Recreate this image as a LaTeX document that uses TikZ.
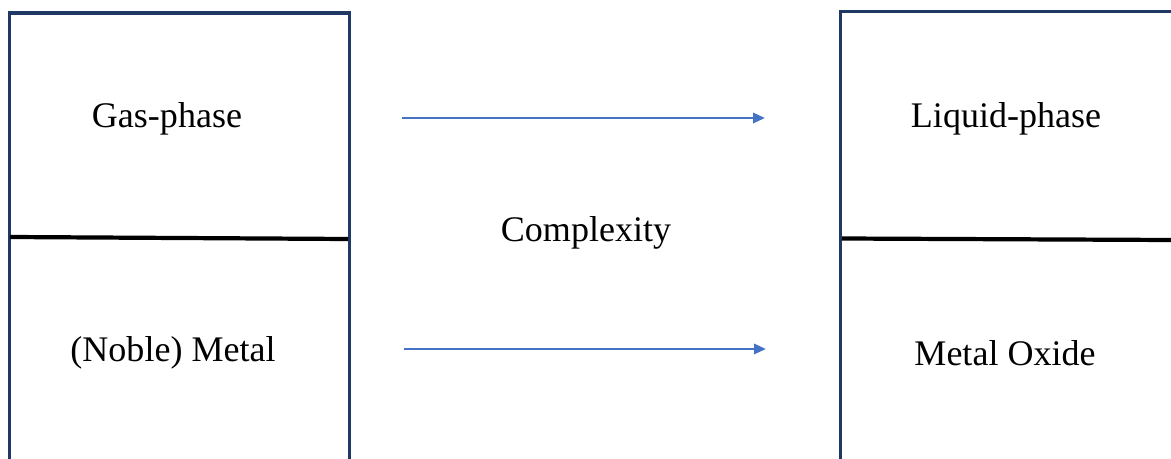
\documentclass[tikz,border=0pt]{standalone}
\usepackage{fontspec}
\setmainfont{Liberation Serif}
\usepackage{xcolor}
\usetikzlibrary{arrows.meta, positioning}
\definecolor{boxnavy}{HTML}{1F3864}
\definecolor{arrowblue}{HTML}{4472C4}

\begin{document}
\begin{tikzpicture}[x=0.02cm, y=-0.02cm, >={Triangle[length=6.8pt, width=5.8pt]}, every node/.style={font=\fontsize{20.5}{24}\selectfont}]
\useasboundingbox (0,0) rectangle (1171,459);
\clip (0,0) rectangle (1171,459);

% two boxes, cut off at the bottom
\draw[boxnavy, line width=2pt] (9.5,480) -- (9.5,13) -- (349.5,13) -- (349.5,480);
\draw[boxnavy, line width=2pt] (840.5,480) -- (840.5,11.5) -- (1190,11.5);
\draw[black, line width=2.4pt] (10,237) -- (348,239);
\draw[black, line width=2.4pt] (842,238.5) -- (1171,240);

\node (gas) at (167,119) {Gas-phase};
\node (metal) at (173,353) {(Noble) Metal};
\node (liquid) at (1006,119) {Liquid-phase};
\node (oxide) at (1005,353) {Metal Oxide};
\node (cplx) at (586,233) {Complexity};

\coordinate (a1) at (402,118);
\coordinate (b1) at (765,118);
\coordinate (a2) at (404,349);
\coordinate (b2) at (766,349);

\draw[->, arrowblue, line width=1.4pt] (a1) -- (b1);
\draw[->, arrowblue, line width=1.4pt] (a2) -- (b2);
\end{tikzpicture}
\end{document}
